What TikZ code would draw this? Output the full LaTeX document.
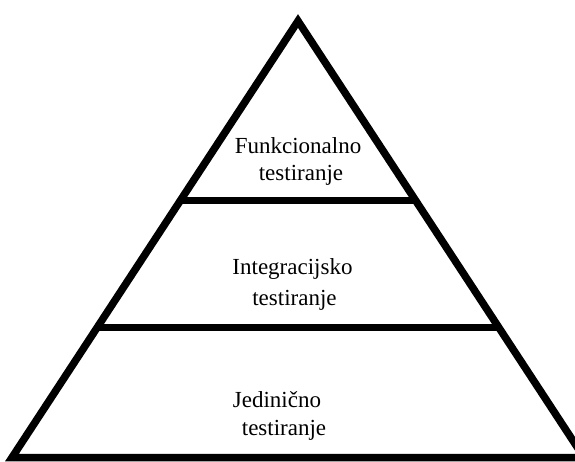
\documentclass[tikz,border=0pt]{standalone}
\usepackage{fontspec}
\setmainfont{Liberation Serif}
\begin{document}
\begin{tikzpicture}[x=1pt,y=-1pt,
  edge/.style={line width=7.5pt, line join=miter, black},
  label/.style={anchor=base, inner sep=0pt, font=\fontsize{23}{27}\selectfont, text=black}]
\useasboundingbox (0,0) rectangle (575,461);
\clip (0,0) rectangle (575,461);
\coordinate (apex) at (298,21);
\coordinate (bl) at (12,457.5);
\coordinate (br) at (584,457.5);
\coordinate (l1) at (180.5,200.5);
\coordinate (r1) at (415.5,200.5);
\coordinate (l2) at (97.5,327.5);
\coordinate (r2) at (498.5,327.5);
\draw[edge] (apex) -- (br) -- (bl) -- cycle;
\draw[edge] (l1) -- (r1);
\draw[edge] (l2) -- (r2);
\node[label] (f1) at (298,153) {Funkcionalno};
\node[label] (f2) at (301,180) {testiranje};
\node[label] (i1) at (292.5,274) {Integracijsko};
\node[label] (i2) at (294.5,305) {testiranje};
\node[label] (j1) at (277,407) {Jedinično};
\node[label] (j2) at (284,435) {testiranje};
\end{tikzpicture}
\end{document}
